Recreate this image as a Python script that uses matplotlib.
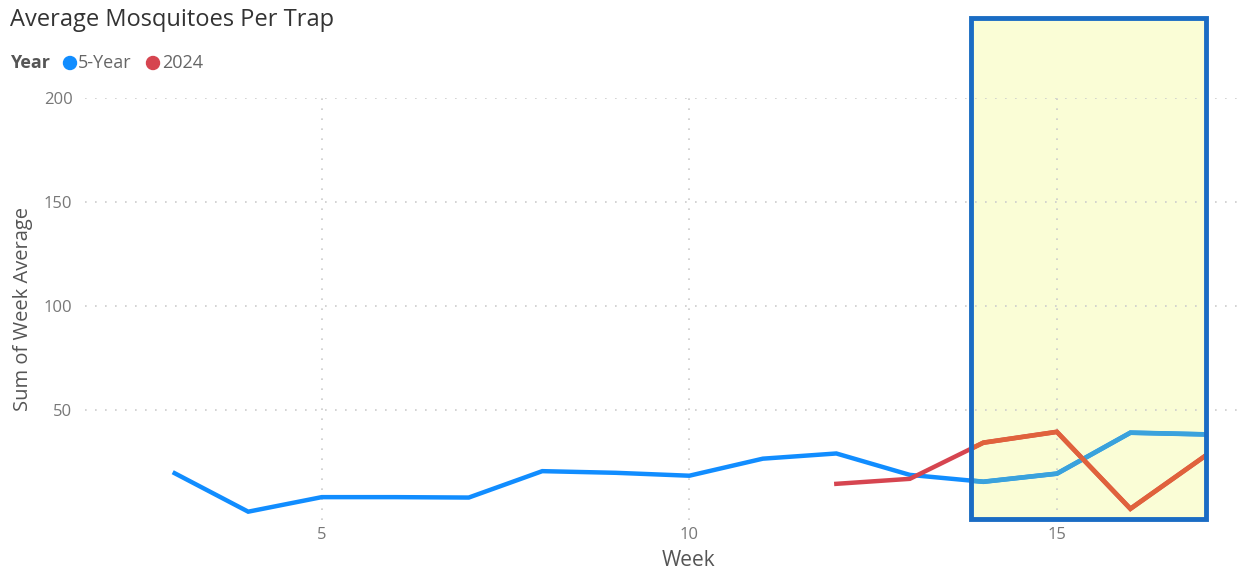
import numpy as np
import matplotlib
matplotlib.use("Agg")
from matplotlib import pyplot as plt
from matplotlib.patches import Rectangle, Ellipse

# dados
weeks_5yr = [3, 4, 5, 6, 7, 8, 9, 10, 11, 12, 13, 14, 15, 16, 17]
avg_5yr = [19.5, 1, 8, 8, 7.8, 20.5, 19.7, 18.3, 26.5, 29, 18.7, 15.4, 19.3, 39, 38.2]
weeks_2024 = [12, 13, 14, 15, 16, 17]
avg_2024 = [14.4, 16.8, 34.2, 39.4, 2.4, 27.4]

x_ticks = [5, 10, 15]
y_ticks = [50, 100, 150, 200]

plt.rcParams['font.family'] = ['Open Sans', 'DejaVu Sans']

W, H = 1239, 571
fig = plt.figure(figsize=(W / 100, H / 100), dpi=100)
fig.patch.set_facecolor("white")

ax = fig.add_axes([85 / W, 1 - 520 / H, 1152 / W, 422 / H])
ax.set_facecolor("none")
ax.set_xlim(1.78, 17.45)
ax.set_ylim(-3, 200)

# caixa amarela (fundo)
box = (969 / W, 1 - 521 / H, 239 / W, 505 / H)
box_fill = Rectangle(box[:2], box[2], box[3], transform=fig.transFigure,
                     facecolor="#fafdd6", edgecolor="none", zorder=-1)
fig.add_artist(box_fill)

ax.plot(weeks_5yr, avg_5yr, color="#118dff", lw=3.2, solid_joinstyle="miter", zorder=3)
ax.plot(weeks_2024, avg_2024, color="#d64550", lw=3.2, solid_joinstyle="miter", zorder=3)

# mesmas linhas dentro da caixa, cores alteradas
l1, = ax.plot(weeks_5yr, avg_5yr, color="#3aa2dc", lw=3.4, solid_joinstyle="miter", zorder=4)
l2, = ax.plot(weeks_2024, avg_2024, color="#e0623c", lw=3.4, solid_joinstyle="miter", zorder=4)
clip = Rectangle(box[:2], box[2], box[3], transform=fig.transFigure)
l1.set_clip_path(clip)
l2.set_clip_path(clip)

ax.set_xticks(x_ticks)
ax.set_yticks(y_ticks)
ax.tick_params(axis="x", length=0, labelsize=12, labelcolor="#777777", pad=5)
ax.tick_params(axis="y", length=0, labelsize=12, labelcolor="#777777", pad=9)
ax.grid(True, color="#cccccc", linestyle=(0, (1, 5)), lw=1.2)
for s in ax.spines.values():
    s.set_visible(False)

ax.set_xlabel("Week", fontsize=15, color="#555555")
ax.xaxis.set_label_coords((689 - 85) / 1152, -0.07)
ax.set_ylabel("Sum of Week Average", fontsize=14.5, color="#555555", labelpad=8)

# borda da caixa por cima
box_edge = Rectangle((971 / W, 1 - 519 / H), 235 / W, 501 / H, transform=fig.transFigure,
                     facecolor="none", edgecolor="#1a6cc4", lw=3.5, zorder=10)
fig.add_artist(box_edge)

fig.text(10 / W, 1 - 20 / H, "Average Mosquitoes Per Trap", fontsize=17, color="#333333",
         va="center", ha="left")
fig.text(10 / W, 1 - 63 / H, "Year", fontsize=13, color="#555555", fontweight="bold",
         va="center", ha="left")
fig.add_artist(Ellipse((70 / W, 1 - 63 / H), 13 / W, 13 / H, transform=fig.transFigure,
                       color="#118dff"))
fig.text(78 / W, 1 - 63 / H, "5-Year", fontsize=13, color="#666666", va="center", ha="left")
fig.add_artist(Ellipse((153 / W, 1 - 63 / H), 13 / W, 13 / H, transform=fig.transFigure,
                       color="#d64550"))
fig.text(162 / W, 1 - 63 / H, "2024", fontsize=13, color="#666666", va="center", ha="left")

fig.savefig("out.png", dpi=100)
